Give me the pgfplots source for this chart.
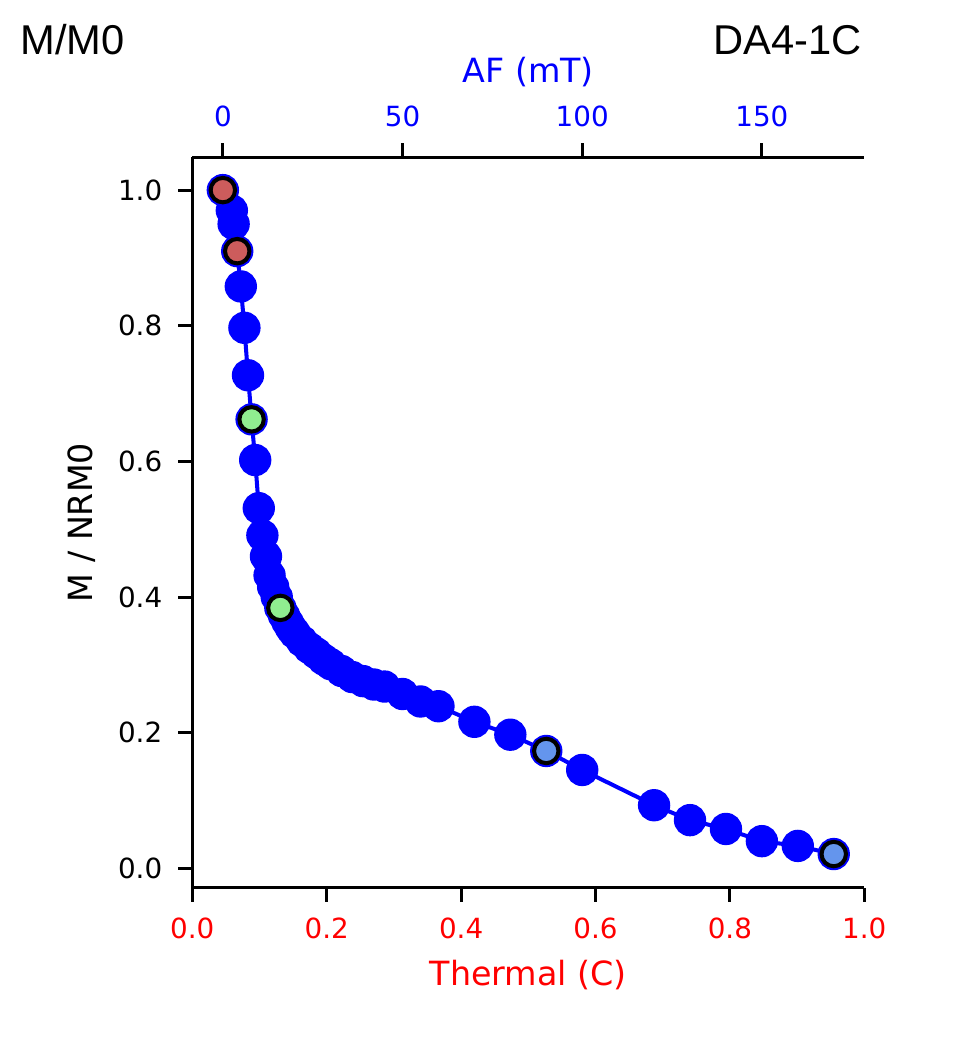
\documentclass[border=0pt]{standalone}
\usepackage{fontspec}
\setmainfont{DejaVu Sans}
\newfontfamily\arialfont{Liberation Sans}
\usepackage{pgfplots}
\pgfplotsset{compat=1.18}
\definecolor{indianred}{RGB}{205,92,92}
\definecolor{lightgreen}{RGB}{144,238,144}
\definecolor{cornflower}{RGB}{100,149,237}
\definecolor{pureblue}{RGB}{0,0,255}
\definecolor{purered}{RGB}{255,0,0}

\pgfplotstableread{
af m
0 1.000
2.5 0.970
3 0.950
4 0.910
5 0.858
6 0.797
7 0.727
8 0.662
9 0.602
10 0.531
11 0.491
12 0.460
13 0.432
14 0.415
15 0.400
16 0.384
17 0.373
18 0.363
19 0.354
20 0.347
22 0.335
24 0.325
26 0.317
28 0.308
30 0.301
33 0.291
36 0.282
39 0.276
42 0.271
45 0.268
50 0.257
55 0.246
60 0.239
70 0.216
80 0.197
90 0.173
100 0.145
120 0.093
130 0.071
140 0.058
150 0.040
160 0.033
170 0.021
}\afdata

\pgfplotstableread{
af m
0 1.000
4 0.910
}\reddata
\pgfplotstableread{
af m
8 0.662
16 0.384
}\greendata
\pgfplotstableread{
af m
90 0.173
170 0.021
}\cbluedata

\begin{document}
\begin{tikzpicture}[x=0.36pt,y=0.36pt]
\path[use as bounding box] (0,0) rectangle (960,1044);
\pgfplotsset{
  common/.style={
    at={(69.23pt,56.27pt)}, anchor=south west,
    scale only axis, width=241.92pt, height=262.94pt,
    ymin=-0.0286, ymax=1.0484,
    axis line style={-, line width=1.1pt},
    tick align=outside, major tick length=5pt,
    tick style={black, line width=1.1pt},
    /pgf/number format/assume math mode=true,
    tick label style={font=\fontsize{10}{12}\selectfont},
    label style={font=\fontsize{12}{14}\selectfont},
    clip=false,
  }
}
\begin{axis}[common,
  xmin=0, xmax=1,
  axis x line*=bottom, axis y line*=left,
  xtick={0,0.2,0.4,0.6,0.8,1.0},
  ytick={0,0.2,0.4,0.6,0.8,1.0},
  xticklabel style={text=purered, yshift=-2.5pt, /pgf/number format/.cd, fixed, fixed zerofill, precision=1},
  yticklabel style={xshift=-2.3pt, /pgf/number format/.cd, fixed, fixed zerofill, precision=1},
  xlabel={Thermal (C)},
  xlabel style={text=purered, at={(axis description cs:0.5,-0.1195)}, anchor=center},
  ylabel={M / NRM0},
  ylabel style={at={(axis description cs:-0.164,0.5)}, anchor=center, rotate=0},
]
\end{axis}
\begin{axis}[common,
  xmin=-8.5, xmax=178.5,
  axis x line*=top, axis y line=none,
  xtick={0,50,100,150},
  xticklabel style={text=pureblue, yshift=2.5pt},
  xlabel={AF (mT)},
  xlabel style={text=pureblue, at={(axis description cs:0.5,1.1168)}, anchor=center},
]
\addplot[pureblue, line width=1.45pt, mark=*, mark size=5.1pt, mark options={fill=pureblue, draw=none}] table[x=af,y=m]{\afdata};
\addplot[only marks, mark=*, mark size=4.4pt, mark options={fill=indianred, draw=black, line width=1.45pt}] table[x=af,y=m]{\reddata};
\addplot[only marks, mark=*, mark size=4.4pt, mark options={fill=lightgreen, draw=black, line width=1.45pt}] table[x=af,y=m]{\greendata};
\addplot[only marks, mark=*, mark size=4.4pt, mark options={fill=cornflower, draw=black, line width=1.45pt}] table[x=af,y=m]{\cbluedata};
\end{axis}
\node[anchor=base west, font=\arialfont\fontsize{15}{18}\selectfont, inner sep=0pt] at (20,989) {M/M0};
\node[anchor=base east, font=\arialfont\fontsize{15}{18}\selectfont, inner sep=0pt] at (862,989) {DA4-1C};
\end{tikzpicture}
\end{document}
